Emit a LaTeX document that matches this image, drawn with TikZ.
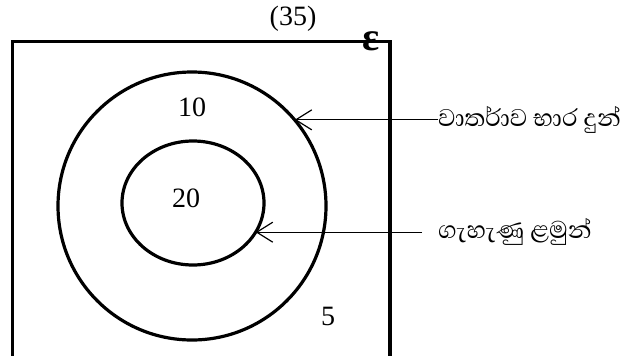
\documentclass[tikz,border=0pt]{standalone}
\usepackage{fontspec}
\setmainfont{Liberation Serif}
\newfontfamily\sinhala[Script=Sinhala]{Abhaya Libre}
\newcommand{\aela}{\XeTeXglyph\XeTeXcharglyph"0DCF\relax}
\usetikzlibrary{arrows.meta, shapes.geometric}

\begin{document}
\begin{tikzpicture}[x=1pt, y=-1pt,
  ring/.style={draw, line width=3.2pt, inner sep=0pt, outer sep=0pt},
  pointer/.style={line width=1.2pt, -{Straight Barb[length=16pt, width=20pt]}},
  num/.style={font=\fontsize{28}{30}\selectfont, inner sep=0pt},
  lbl/.style={font=\sinhala\fontsize{31}{34}\selectfont, inner sep=0pt, anchor=west}]
\useasboundingbox (0,0) rectangle (624,356);
\draw[line width=3.2pt] (12.5,362) -- (12.5,41.5) -- (390,41.5) -- (390,362);
\node[ring, circle, minimum size=268pt] (outer) at (192,206) {};
\node[ring, ellipse, minimum width=142pt, minimum height=124pt] (inner) at (193,203) {};
\node[num] (ten) at (192,107) {10};
\node[num] (twenty) at (186,198) {20};
\node[num] (five) at (328,316) {5};
\node[num] (total) at (293,19) {(35)};
\node[num, font=\fontsize{40}{42}\selectfont\bfseries] (univ) at (371,41) {ε};
\coordinate (cola) at (438,0);
\coordinate (colb) at (438,0);
\node[lbl] (lbla) at (outer.40 -| cola) {වාතර්\aela ව භාර දුන්};
\node[lbl] (lblb) at (inner.-25 -| colb) {ගැහැණු ළමුන්};
\draw[pointer] (lbla.west) -- (outer.40);
\draw[pointer] ([xshift=-16pt]lblb.west) -- (inner.-25);
\end{tikzpicture}
\end{document}
